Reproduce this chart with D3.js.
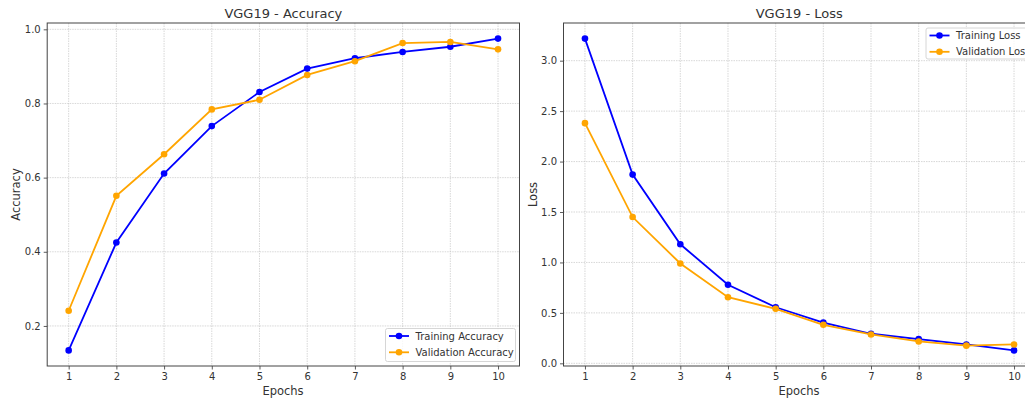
<!DOCTYPE html>
<html><head><meta charset="utf-8">
<script src="https://cdn.jsdelivr.net/npm/d3@7"></script>
<style>
body{margin:0;background:#fff;}
text{font-family:"DejaVu Sans",sans-serif;fill:#333;}
</style></head>
<body><svg id="c" width="1025" height="399"></svg>
<script>
const epochs = [1,2,3,4,5,6,7,8,9,10];
const trainAcc = [0.134,0.425,0.611,0.739,0.831,0.894,0.922,0.939,0.953,0.975];
const valAcc   = [0.241,0.551,0.663,0.784,0.810,0.877,0.914,0.963,0.966,0.946];
const trainLoss = [3.219,1.871,1.180,0.779,0.556,0.404,0.293,0.240,0.187,0.128];
const valLoss   = [2.381,1.450,0.990,0.655,0.540,0.382,0.286,0.217,0.175,0.187];
const accTicks = [0.2,0.4,0.6,0.8,1.0];
const lossTicks = [0.0,0.5,1.0,1.5,2.0,2.5,3.0];
const BLUE = "#0000ff", ORANGE = "#ffa500";

const svg = d3.select("#c");

function panel(o){
  const g = svg.append("g");
  const x = d3.scaleLinear().domain([0.55,10.45]).range([o.left,o.right]);
  const lo = d3.min([...o.s1,...o.s2]), hi = d3.max([...o.s1,...o.s2]);
  const pad = (hi-lo)*0.05;
  const y = d3.scaleLinear().domain([lo-pad,hi+pad]).range([o.bottom,o.top]);
  // grid
  const gs = sel => sel.attr("stroke","#bdbdbd").attr("stroke-width",0.8).attr("stroke-opacity",0.75).attr("stroke-dasharray","1.5,1");
  g.append("g").selectAll("line").data(epochs).join("line")
    .attr("x1",d=>x(d)).attr("x2",d=>x(d)).attr("y1",o.top).attr("y2",o.bottom).call(gs);
  g.append("g").selectAll("line").data(o.ticks).join("line")
    .attr("y1",d=>y(d)).attr("y2",d=>y(d)).attr("x1",o.left).attr("x2",o.right).call(gs);
  // axes
  const xa = g.append("g").attr("transform",`translate(0,${o.bottom})`)
    .call(d3.axisBottom(x).tickValues(epochs).tickFormat(d3.format("d")).tickSizeOuter(0).tickSize(3.5).tickPadding(3));
  const ya = g.append("g").attr("transform",`translate(${o.left},0)`)
    .call(d3.axisLeft(y).tickValues(o.ticks).tickFormat(d3.format(".1f")).tickSizeOuter(0).tickSize(3.5).tickPadding(3));
  [xa,ya].forEach(a=>{
    a.select(".domain").remove();
    a.selectAll(".tick line").attr("stroke","#333").attr("stroke-width",0.8);
    a.selectAll(".tick text").attr("font-size","10px").attr("fill","#333").attr("font-family","DejaVu Sans");
  });
  // frame
  g.append("rect").attr("x",o.left).attr("y",o.top).attr("width",o.right-o.left).attr("height",o.bottom-o.top)
    .attr("fill","none").attr("stroke","#444").attr("stroke-width",1);
  // lines
  const line = d3.line().x((d,i)=>x(epochs[i])).y(d=>y(d));
  [[o.s1,BLUE],[o.s2,ORANGE]].forEach(([s,c])=>{
    g.append("path").datum(s).attr("d",line).attr("fill","none").attr("stroke",c).attr("stroke-width",1.8);
    g.append("g").selectAll("circle").data(s).join("circle")
      .attr("cx",(d,i)=>x(epochs[i])).attr("cy",d=>y(d)).attr("r",3.3).attr("fill",c);
  });
  // title & labels
  g.append("text").attr("x",(o.left+Math.min(o.right,1035))/2).attr("y",18).attr("text-anchor","middle")
    .attr("font-size","13px").attr("fill","#222").text(o.title);
  g.append("text").attr("x",o.xlabX).attr("y",395).attr("text-anchor","middle")
    .attr("font-size","11.5px").attr("fill","#222").text("Epochs");
  g.append("text").attr("transform",`translate(${o.ylabX},${(o.top+o.bottom)/2}) rotate(-90)`)
    .attr("text-anchor","middle").attr("font-size","11.5px").attr("fill","#222").text(o.ylab);
  // legend
  const L = o.legend;
  g.append("rect").attr("x",L.x).attr("y",L.y).attr("width",L.w).attr("height",L.h).attr("rx",2)
    .attr("fill","#fff").attr("fill-opacity",0.8).attr("stroke","#ccc").attr("stroke-width",0.8);
  o.names.forEach((n,i)=>{
    const cy = L.y + 7.5 + i*16.3;
    const c = i===0?BLUE:ORANGE;
    g.append("line").attr("x1",L.x+3.5).attr("x2",L.x+23.5).attr("y1",cy).attr("y2",cy).attr("stroke",c).attr("stroke-width",1.8);
    g.append("circle").attr("cx",L.x+13.5).attr("cy",cy).attr("r",3.3).attr("fill",c);
    g.append("text").attr("x",L.x+30).attr("y",cy+3.6).attr("font-size","10px").attr("fill","#333").text(n);
  });
}

panel({left:47.2,right:519.5,top:23,bottom:366,s1:trainAcc,s2:valAcc,ticks:accTicks,
  title:"VGG19 - Accuracy",ylab:"Accuracy",xlabX:283,ylabX:20,
  names:["Training Accuracy","Validation Accuracy"],
  legend:{x:385.5,y:328.5,w:130,h:33}});
panel({left:563.5,right:1035.5,top:23,bottom:366,s1:trainLoss,s2:valLoss,ticks:lossTicks,
  title:"VGG19 - Loss",ylab:"Loss",xlabX:799,ylabX:537,
  names:["Training Loss","Validation Loss"],
  legend:{x:926,y:28,w:106,h:31}});
</script></body></html>
